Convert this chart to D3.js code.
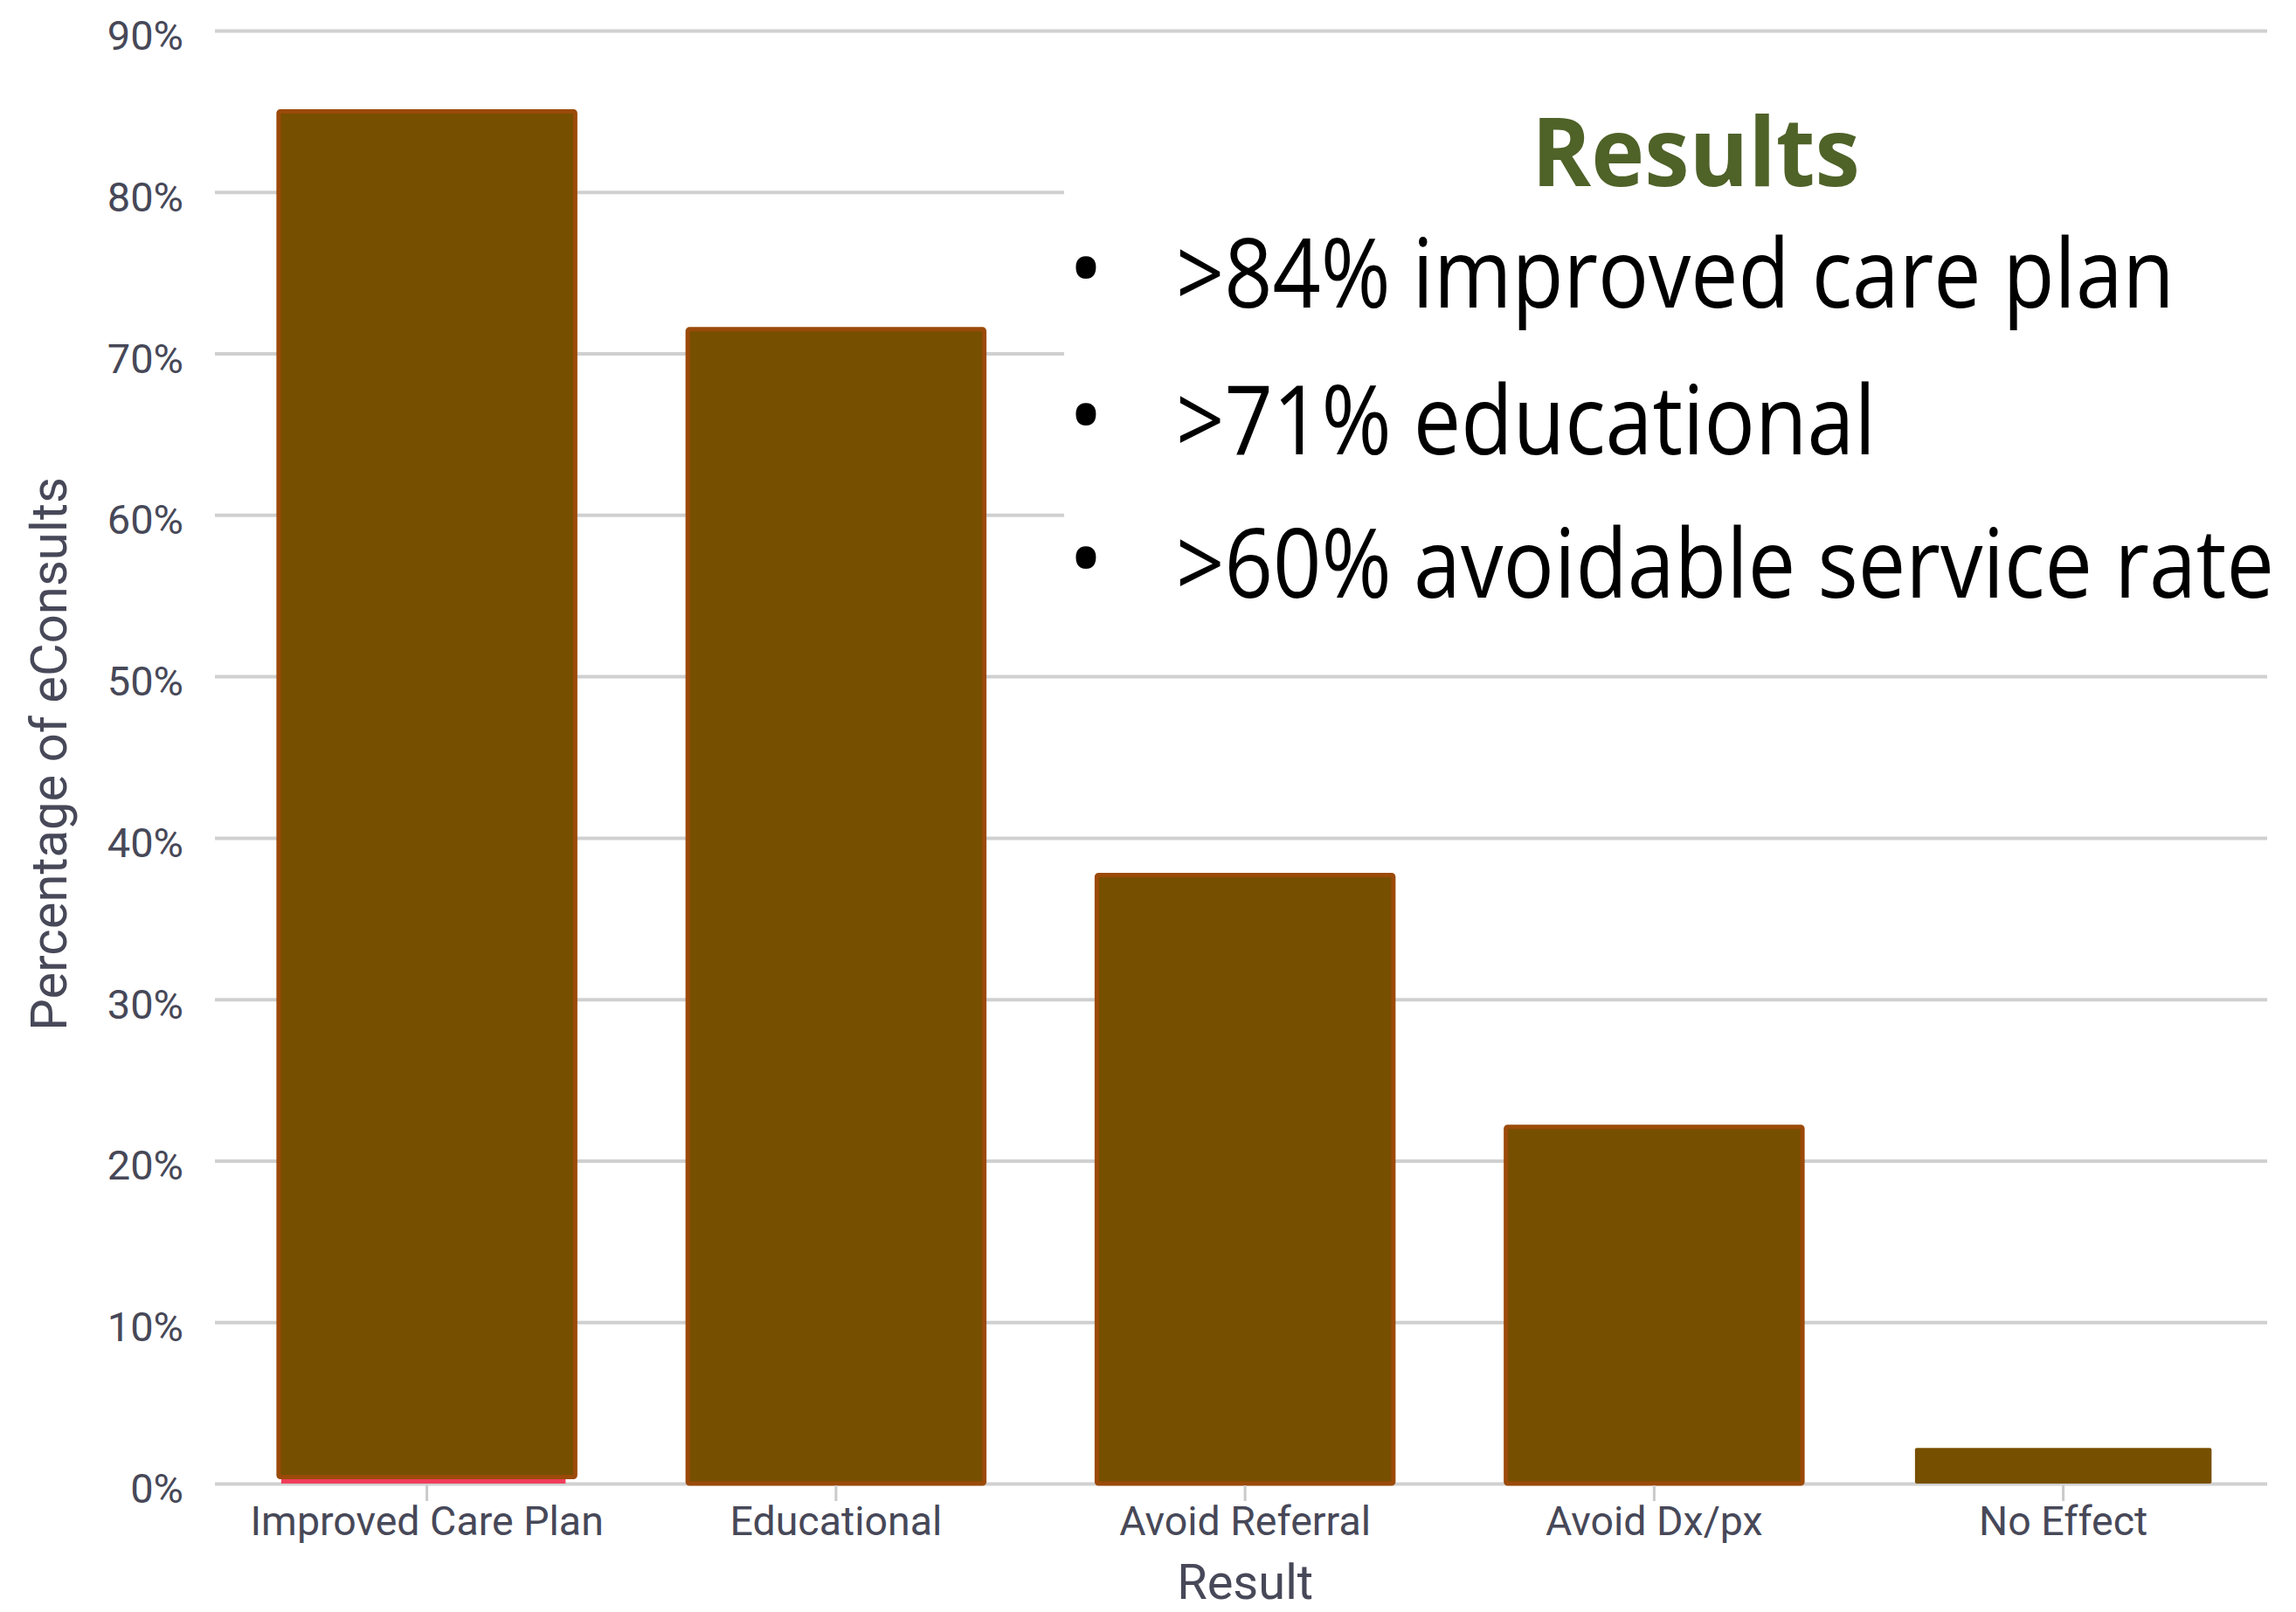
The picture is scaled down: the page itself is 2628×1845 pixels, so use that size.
<!DOCTYPE html>
<html>
<head>
<meta charset="utf-8">
<script src="https://cdn.jsdelivr.net/npm/d3@7"></script>
<style>
  html, body { margin: 0; padding: 0; background: #ffffff; }
  svg { display: block; }
</style>
</head>
<body>
<svg id="chart" width="2628" height="1845"></svg>
<script>
// ---------- data ----------
const categories = ["Improved Care Plan", "Educational", "Avoid Referral", "Avoid Dx/px", "No Effect"];
const baseValues = [0.4, 0, 0, 0, 0];          // thin red segment under first bar
const mainValues = [84.6, 71.5, 37.7, 22.1, 2.2];
const yTickValues = [0, 10, 20, 30, 40, 50, 60, 70, 80, 90];
const yTitle = "Percentage of eConsults";
const xTitle = "Result";
const boxTitle = "Results";
const bullets = [">84% improved care plan", ">71% educational", ">60% avoidable service rate"];

// ---------- layout ----------
const W = 2628, H = 1845;
const svg = d3.select("#chart");
const axisColor = "#474858";
const gridColor = "#d0d0d0";
const barFill = "#774f00";
const barStroke = "#9b4a08";
const redFill = "#f03e5a";

const x = d3.scaleBand().domain(categories).range([254.5, 2595.75]).paddingInner(0.275).paddingOuter(0.1375);
const y = d3.scaleLinear().domain([0, 90]).range([1698, 35]);

const gridX0 = 246, gridX1 = 2595;

// gridlines
const gAxisY = svg.append("g").attr("transform", `translate(${gridX0},0)`)
  .call(d3.axisRight(y).tickValues(yTickValues).tickSize(gridX1 - gridX0).tickFormat(""));
gAxisY.select(".domain").remove();
gAxisY.selectAll(".tick line").attr("stroke", gridColor).attr("stroke-width", 4);

// y tick labels
svg.append("g").selectAll("text").data(yTickValues).join("text")
  .attr("x", 210)
  .attr("y", d => y(d) + 22)
  .attr("text-anchor", "end")
  .attr("font-family", "Roboto, 'DejaVu Sans', sans-serif")
  .attr("font-size", 47)
  .attr("fill", axisColor)
  .text(d => d + "%");

// white panel behind text block
svg.append("rect").attr("x", 1218).attr("y", 80).attr("width", W - 1218).attr("height", 640).attr("fill", "#ffffff");

// stacked bars
const rows = categories.map((c, i) => ({cat: c, base: baseValues[i], main: mainValues[i]}));
const stack = d3.stack().keys(["base", "main"]);
const series = stack(rows);

// red base segment (slightly narrower, no outline)
svg.append("g").selectAll("rect").data(series[0].filter(d => d[1] > d[0])).join("rect")
  .attr("x", d => x(d.data.cat) + 3)
  .attr("width", x.bandwidth() - 14)
  .attr("y", d => y(d[1]))
  .attr("height", d => y(d[0]) - y(d[1]))
  .attr("fill", redFill);

svg.append("g").selectAll("rect").data(series[1]).join("rect")
  .attr("x", d => x(d.data.cat))
  .attr("width", x.bandwidth())
  .attr("y", d => y(d[1]))
  .attr("height", d => y(d[0]) - y(d[1]))
  .attr("rx", 2)
  .attr("fill", barFill)
  .attr("stroke", d => d.data.cat === "No Effect" ? "none" : barStroke)
  .attr("stroke-width", 5);

// x axis ticks and labels
const gx = svg.append("g").attr("transform", `translate(0,${y(0) + 2})`)
  .call(d3.axisBottom(x).tickSize(18).tickPadding(6));
gx.select(".domain").remove();
gx.selectAll(".tick line").attr("stroke", "#cacaca").attr("stroke-width", 3);
gx.selectAll(".tick text")
  .attr("font-family", "Roboto, 'DejaVu Sans', sans-serif")
  .attr("font-size", 46.5)
  .attr("fill", axisColor)
  .attr("dy", "0.71em");

// axis titles
svg.append("text")
  .attr("transform", `translate(76,${863}) rotate(-90)`)
  .attr("text-anchor", "middle")
  .attr("font-family", "Roboto, 'DejaVu Sans', sans-serif")
  .attr("font-size", 58)
  .attr("fill", axisColor)
  .text(yTitle);

svg.append("text")
  .attr("x", x("Avoid Referral") + x.bandwidth() / 2)
  .attr("y", 1830)
  .attr("text-anchor", "middle")
  .attr("font-family", "Roboto, 'DejaVu Sans', sans-serif")
  .attr("font-size", 56)
  .attr("fill", axisColor)
  .text(xTitle);

// text block (horizontally condensed to mimic the original narrow face)
const tFont = "'Open Sans', 'Noto Sans', sans-serif";
function condensed(str, xLeft, yBase, targetW, opts) {
  const g = svg.append("g");
  const t = g.append("text")
    .attr("x", 0).attr("y", 0)
    .attr("font-family", tFont)
    .attr("font-size", opts.size)
    .attr("font-weight", opts.weight || 400)
    .attr("fill", opts.fill)
    .text(str);
  const natural = t.node().getComputedTextLength();
  const s = targetW / natural;
  const x0 = opts.center ? xLeft - targetW / 2 : xLeft;
  g.attr("transform", `translate(${x0},${yBase}) scale(${s},1)`);
  return g;
}

condensed(boxTitle, 1941, 213, 376, {size: 110, weight: 700, fill: "#4f6228", center: true});

const lineBase = [352, 520, 684];
const lineWidths = [1143, 801, 1257];
bullets.forEach((t, i) => {
  svg.append("text")
    .attr("x", 1243).attr("y", lineBase[i] - 6)
    .attr("text-anchor", "middle")
    .attr("font-family", tFont)
    .attr("font-size", 110)
    .attr("fill", "#000")
    .text("•");
  condensed(t, 1346, lineBase[i], lineWidths[i], {size: 110, fill: "#000"});
});
</script>
</body>
</html>
